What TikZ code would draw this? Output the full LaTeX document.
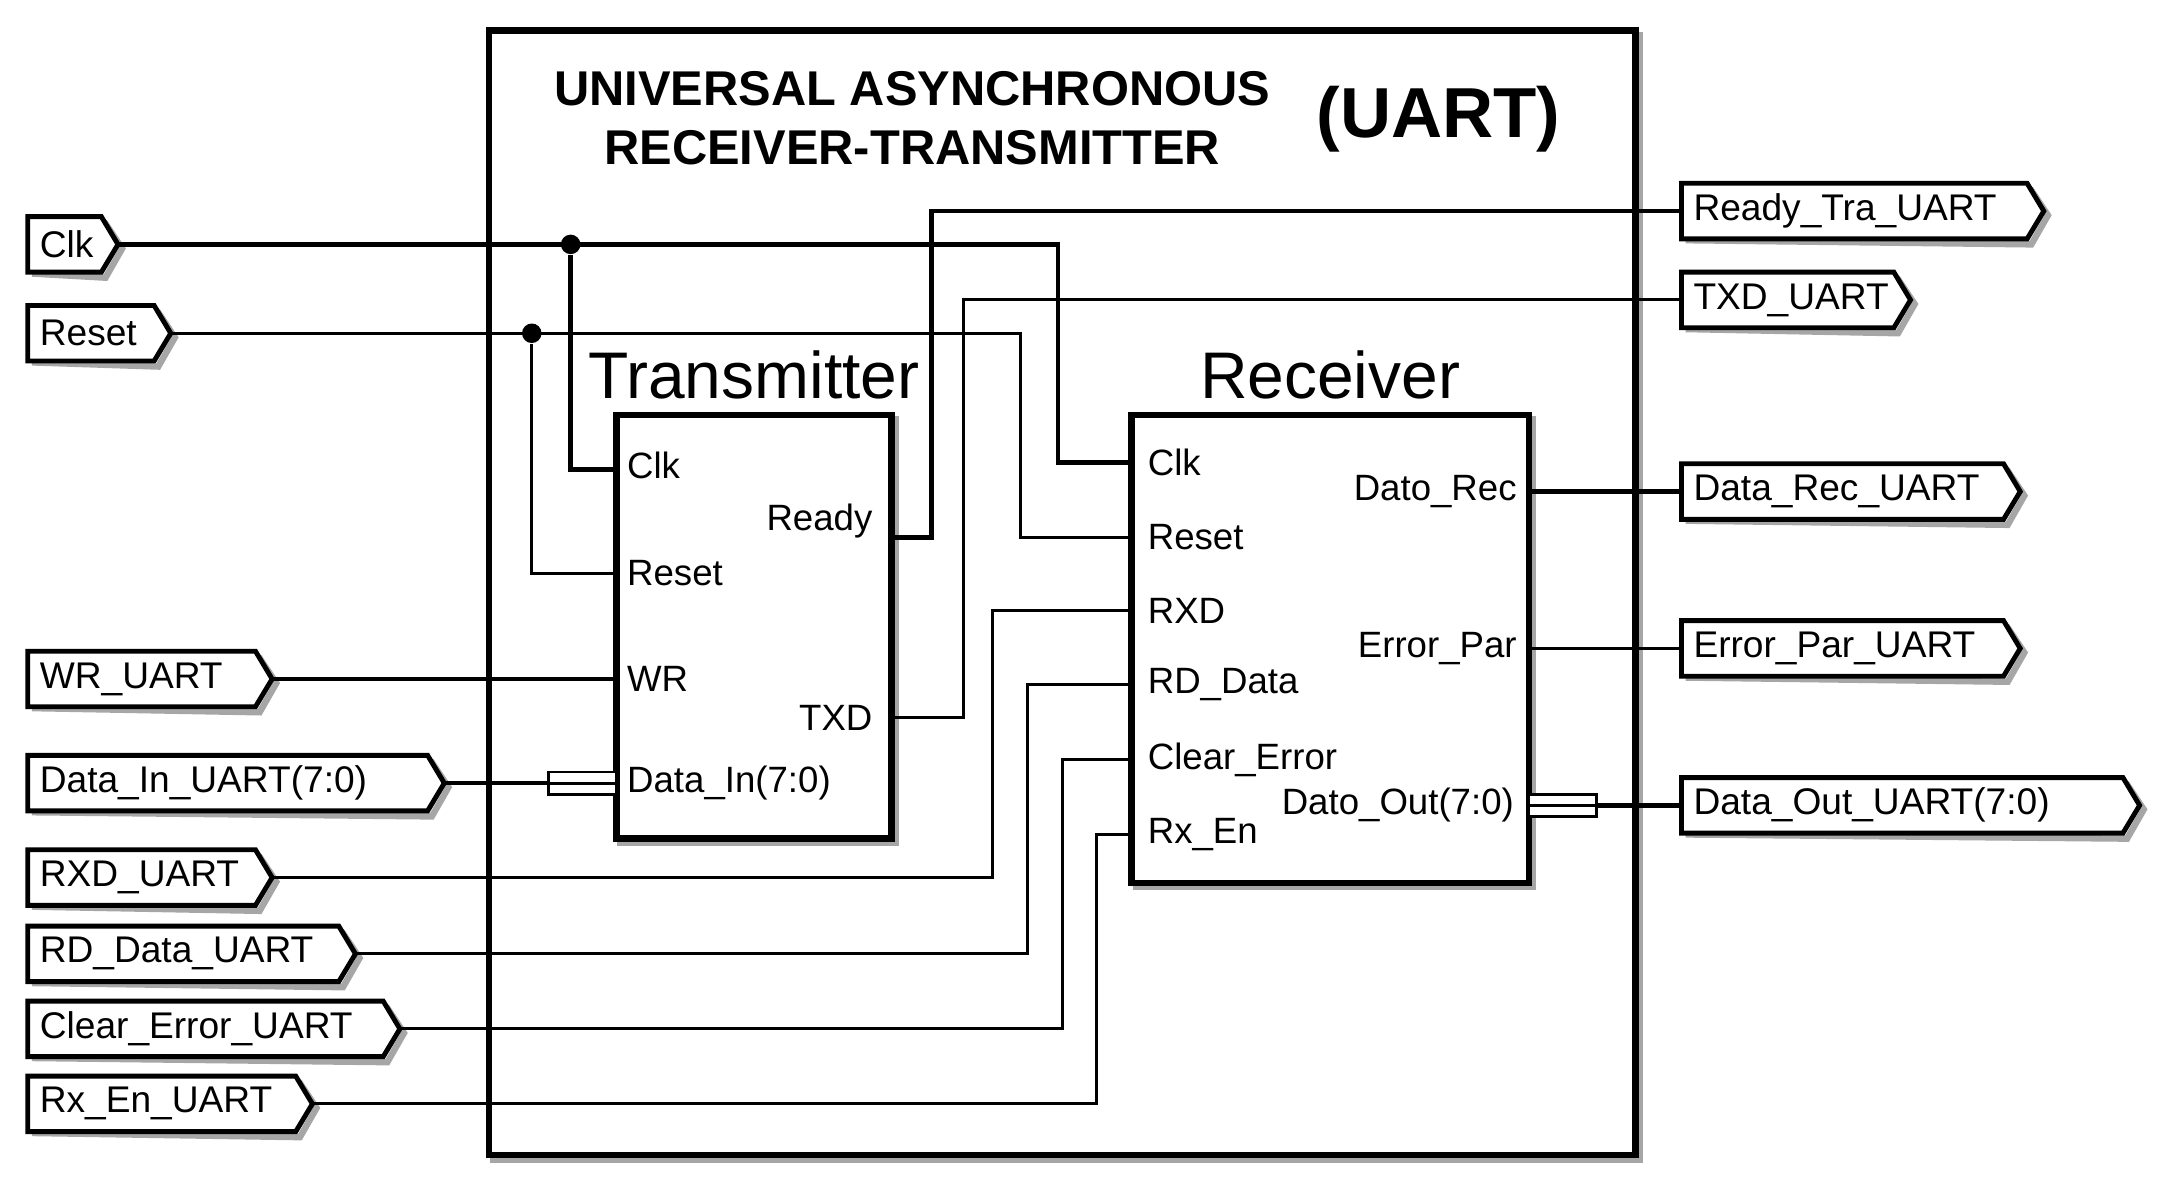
\documentclass[tikz,border=0pt]{standalone}
\usepackage{fontspec}
\setmainfont{Liberation Sans}
\begin{document}
\begin{tikzpicture}[x=0.01cm,y=-0.01cm,
  wire/.style={line width=0.9pt},
  thin wire/.style={line width=0.6pt},
  box/.style={draw,line width=1.3pt},
  shadowc/.style={draw=black!35,line width=1.3pt},
  pin/.style={font=\fontsize{7.5}{8}\selectfont,inner sep=0pt},
  porttext/.style={font=\fontsize{7.6}{9}\selectfont,anchor=west,inner sep=0pt},
  dot/.style={circle,fill,inner sep=0pt,minimum size=4pt}]
\useasboundingbox (0,0) rectangle (1560,856);
% port outline: #1 left x, #2 y, #3 tip x, #4 name, #5 text, #6 wire end x
\newcommand\uport[6]{%
  \draw[shadowc] (#1+3,#2-18) -- (#3-12+3,#2-18+3) -- (#3+3,#2+3) -- (#3-12+3,#2+21+3) -- (#1+3,#2+21);
  \draw[fill=white,line width=1pt] (#1,#2-20) -- (#3-12,#2-20) -- (#3,#2) -- (#3-12,#2+20) -- (#1,#2+20) -- cycle;
  \node[porttext] at (#1+8,#2) {#5};
  \coordinate (#4) at (#6,#2);}
% outer box
\draw[shadowc] (355,25) rectangle (1181,835);
\draw[box,fill=white] (352,22) rectangle (1178,832);
\node[font=\fontsize{10}{12}\selectfont\bfseries] (t1) at (657,64) {UNIVERSAL ASYNCHRONOUS};
\node[font=\fontsize{10}{12}\selectfont\bfseries] (t2) at (657,106) {RECEIVER-TRANSMITTER};
\node[font=\fontsize{14.5}{16}\selectfont\bfseries] (t3) at (1036,86) {(UART)};
% blocks
\draw[shadowc] (447,302) rectangle (645,607);
\draw[box,fill=white] (444,299) rectangle (642,604);
\node[font=\fontsize{13.5}{15}\selectfont] (tl) at (543,270) {Transmitter};
\draw[shadowc] (818,302) rectangle (1104,639);
\draw[box,fill=white] (815,299) rectangle (1101,636);
\node[font=\fontsize{13.5}{15}\selectfont] (rl) at (958,270) {Receiver};
% transmitter pins
\node[pin,anchor=west] (tclk) at (451,335) {Clk};
\node[pin,anchor=west] (trst) at (451,413) {Reset};
\node[pin,anchor=west] (twr) at (451,489) {WR};
\node[pin,anchor=west] (tdin) at (451,564) {Data\_In(7:0)};
\node[pin,anchor=east] (trdy) at (629,375) {Ready};
\node[pin,anchor=east] (ttxd) at (629,517) {TXD};
% receiver pins
\node[pin,anchor=west] (rclk) at (826,333) {Clk};
\node[pin,anchor=west] (rrst) at (826,387) {Reset};
\node[pin,anchor=west] (rrxd) at (826,440) {RXD};
\node[pin,anchor=west] (rrd) at (826,493) {RD\_Data};
\node[pin,anchor=west] (rclr) at (826,547) {Clear\_Error};
\node[pin,anchor=west] (ren) at (826,601) {Rx\_En};
\node[pin,anchor=east] (rrec) at (1093,354) {Dato\_Rec};
\node[pin,anchor=east] (rpar) at (1093,467) {Error\_Par};
\node[pin,anchor=east] (rout) at (1091,580) {Dato\_Out(7:0)};
% ports
\uport{20}{176}{85}{pclk}{Clk}{85}
\uport{20}{240}{123}{prst}{Reset}{123}
\uport{20}{489}{196}{pwr}{WR\_UART}{196}
\uport{20}{564}{320}{pdin}{Data\_In\_UART(7:0)}{320}
\uport{20}{632}{196}{prxd}{RXD\_UART}{196}
\uport{20}{687}{256}{prd}{RD\_Data\_UART}{256}
\uport{20}{741}{288}{pclr}{Clear\_Error\_UART}{288}
\uport{20}{795}{225}{pen}{Rx\_En\_UART}{225}
\uport{1211}{152}{1472}{prdy}{Ready\_Tra\_UART}{1211}
\uport{1211}{216}{1376}{ptxd}{TXD\_UART}{1211}
\uport{1211}{354}{1455}{prec}{Data\_Rec\_UART}{1211}
\uport{1211}{467}{1455}{ppar}{Error\_Par\_UART}{1211}
\uport{1211}{580}{1541}{pout}{Data\_Out\_UART(7:0)}{1211}
% pin coordinates on block edges
\coordinate (a1) at (444,338); \coordinate (a2) at (444,413);
\coordinate (a3) at (444,489); \coordinate (a4) at (444,564);
\coordinate (a5) at (642,387); \coordinate (a6) at (642,517);
\coordinate (b1) at (815,333); \coordinate (b2) at (815,387);
\coordinate (b3) at (815,440); \coordinate (b4) at (815,493);
\coordinate (b5) at (815,547); \coordinate (b6) at (815,601);
\coordinate (b7) at (1101,354); \coordinate (b8) at (1101,467);
\coordinate (b9) at (1101,580);
% wires
\draw[wire] (pclk) -- (762,176) |- (b1);
\node[dot] (j1) at (411,176) {};
\draw[wire] (j1) |- (a1);
\draw[thin wire] (prst) -- (735,240) |- (b2);
\node[dot] (j2) at (383,240) {};
\draw[thin wire] (j2) |- (a2);
\draw[wire] (a5) -- (671,387) |- (prdy);
\draw[thin wire] (a6) -- (694,517) |- (ptxd);
\draw[wire] (pwr) -- (a3);
\draw[wire] (pdin) -- (a4);
\draw[thin wire,fill=white] (395,556) rectangle (444,572);
\draw[thin wire] (395,564) -- (444,564);
\draw[thin wire] (prxd) -- (715,632) |- (b3);
\draw[thin wire] (prd) -- (740,687) |- (b4);
\draw[thin wire] (pclr) -- (765,741) |- (b5);
\draw[thin wire] (pen) -- (790,795) |- (b6);
\draw[wire] (b7) -- (prec);
\draw[thin wire] (b8) -- (ppar);
\draw[wire] (b9) -- (pout);
\draw[thin wire,fill=white] (1101,572) rectangle (1150,588);
\draw[thin wire] (1101,580) -- (1150,580);
\end{tikzpicture}
\end{document}
